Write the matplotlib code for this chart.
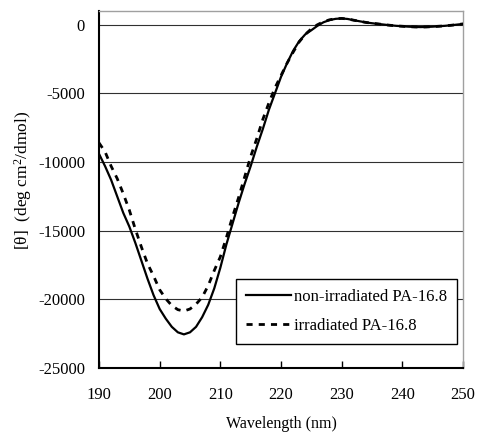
import numpy as np
import matplotlib
matplotlib.use('Agg')
import matplotlib.pyplot as plt

plt.rcParams['font.family'] = ['Liberation Serif', 'DejaVu Serif']
plt.rcParams['font.size'] = 12
plt.rcParams['axes.unicode_minus'] = False
plt.rcParams['mathtext.fontset'] = 'custom'
plt.rcParams['mathtext.rm'] = 'Liberation Serif'
plt.rcParams['mathtext.it'] = 'Liberation Serif:italic'

# CD spectra, wavelength in nm, ellipticity in deg cm2/dmol
wavelength = np.arange(190, 251)

non_irradiated = [-9400, -10300, -11300, -12500, -13700, -14700, -15900, -17200, -18500, -19700,
                  -20700, -21400, -22000, -22400, -22550, -22400, -22000, -21300, -20400, -19200,
                  -17700, -16000, -14500, -13000, -11600, -10300, -8900, -7600, -6200, -5000,
                  -3800, -2800, -1900, -1200, -700, -400, -80, 180, 340, 430,
                  460, 420, 330, 250, 170, 110, 60, 10, -40, -80,
                  -110, -140, -160, -170, -160, -140, -110, -80, -40, 10,
                  60]

irradiated = [-8600, -9250, -10300, -11200, -12300, -13500, -14900, -16200, -17400, -18300,
              -19300, -19950, -20450, -20750, -20850, -20700, -20350, -19850, -19000, -17900,
              -16900, -15500, -14000, -12600, -11100, -9600, -8300, -6900, -5700, -4600,
              -3700, -2800, -2000, -1250, -700, -300, 0, 220, 360, 440,
              460, 420, 330, 250, 170, 110, 60, 10, -40, -80,
              -110, -140, -160, -170, -160, -140, -110, -80, -40, 10,
              60]

fig = plt.figure(figsize=(4.78, 4.32), dpi=100)
ax = fig.add_axes([0.2071, 0.1481, 0.7615, 0.8264])

ax.plot(wavelength, non_irradiated, color='black', lw=1.6, label='non-irradiated PA-16.8', zorder=3)
ax.plot(wavelength, irradiated, color='black', lw=2.0, linestyle=(0, (2.2, 2.2)),
        label='irradiated PA-16.8', zorder=3)

ax.set_xlim(190, 250)
ax.set_ylim(-25000, 1000)
ax.set_xticks(range(190, 251, 10))
ax.set_yticks(range(-25000, 1, 5000))

for y in range(-20000, 1, 5000):
    ax.axhline(y, color='#303030', lw=0.8, zorder=1)

ax.tick_params(axis='x', direction='in', length=5, width=1, pad=14)
ax.tick_params(axis='y', length=0, pad=10)

for side in ['left', 'bottom']:
    ax.spines[side].set_linewidth(1.5)
    ax.spines[side].set_color('black')
for side in ['top', 'right']:
    ax.spines[side].set_linewidth(1.0)
    ax.spines[side].set_color('#a0a0a0')

ax.set_xlabel('Wavelength (nm)', fontsize=11.5, labelpad=9)
ax.set_ylabel('[θ]  (deg cm$^2$/dmol)', fontsize=12.5)
ax.yaxis.set_label_coords(-0.178, 0.525)

leg = ax.legend(loc='lower right', bbox_to_anchor=(0.983, 0.067), frameon=True, fancybox=False,
                edgecolor='black', framealpha=1, handlelength=2.7, handletextpad=0.15,
                labelspacing=0.8, borderpad=0.6, borderaxespad=0)
leg.get_frame().set_linewidth(1.0)

plt.savefig('out.png', dpi=100)
